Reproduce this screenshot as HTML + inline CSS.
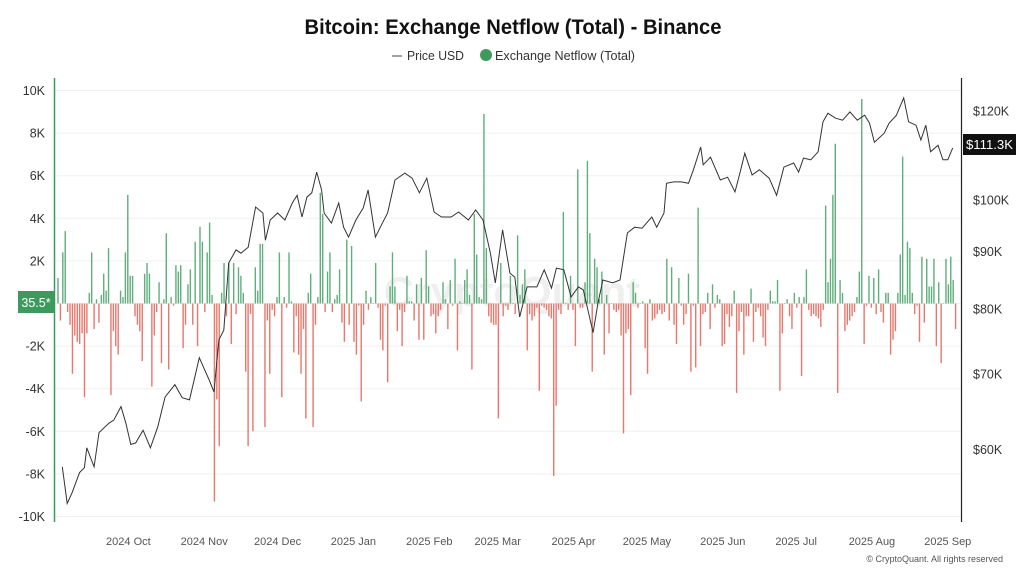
<!DOCTYPE html>
<html><head><meta charset="utf-8">
<style>
body{margin:0;background:#fff;width:1024px;height:571px;overflow:hidden;font-family:"Liberation Sans",sans-serif;}
svg text{font-family:"Liberation Sans",sans-serif;}
</style></head>
<body>
<svg id="chart" width="1024" height="571" viewBox="0 0 1024 571" xmlns="http://www.w3.org/2000/svg">
<text x="513" y="34" text-anchor="middle" font-size="21" font-weight="bold" fill="#111" textLength="417" lengthAdjust="spacingAndGlyphs">Bitcoin: Exchange Netflow (Total) - Binance</text>
<g>
 <g><line x1="392" y1="56" x2="402" y2="56" stroke="#444" stroke-width="1"/><text x="407" y="60" font-size="12.5" fill="#333" textLength="57" lengthAdjust="spacingAndGlyphs">Price USD</text></g>
 <g><circle cx="486" cy="55" r="6" fill="#3d9a5c"/><text x="495" y="60" font-size="12.5" fill="#333" textLength="140" lengthAdjust="spacingAndGlyphs">Exchange Netflow (Total)</text></g>
</g>
<g id="grid"></g>
<text x="512" y="306" text-anchor="middle" font-size="42" fill="#000" opacity="0.06" font-weight="bold">CryptoQuant</text>
<g id="bars"></g>
<path id="price" fill="none" stroke="#333" stroke-width="1"/>
<line x1="54.5" y1="78" x2="54.5" y2="522" stroke="#3d9a5c" stroke-width="1.5"/>
<line x1="961.5" y1="78" x2="961.5" y2="522" stroke="#222" stroke-width="1.2"/>
<g id="ylab"></g>
<g id="rlab"></g>
<g id="xlab"></g>
<g><rect x="18" y="291" width="36" height="22" fill="#3d9a5c"/><text x="36" y="307" text-anchor="middle" font-size="12.5" fill="#fff">35.5*</text></g>
<g><rect x="963" y="134" width="53" height="21" fill="#111"/><text x="989.5" y="149" text-anchor="middle" font-size="12.5" fill="#fff" textLength="47" lengthAdjust="spacingAndGlyphs">$111.3K</text></g>
<text x="1003" y="562" text-anchor="end" font-size="9" fill="#555">© CryptoQuant. All rights reserved</text>
</svg>
<script>
const netflow = [1.2,-0.8,2.4,3.4,-0.4,-1.0,-3.3,-1.5,-1.8,-1.9,-1.4,-4.4,-1.4,0.5,2.4,-1.2,0.2,-0.9,0.4,1.4,0.6,2.6,-4.3,-1.3,-2.0,-2.4,0.6,0.3,2.4,5.1,1.3,1.3,-0.6,-1.0,-1.3,-2.7,1.4,1.9,1.4,-3.9,-1.5,-0.4,1.0,-2.8,0.2,3.3,-3.1,0.3,-0.1,1.8,1.5,1.8,-2.1,-1.0,0.9,1.6,-1.0,2.9,-2.0,3.6,2.9,-0.4,2.4,3.8,0.4,-9.3,-4.5,-6.7,0.5,1.9,-0.6,1.9,-1.9,1.9,-0.5,1.7,1.3,0.5,-3.2,-6.7,-0.5,-6.0,1.7,0.6,2.8,2.8,-5.8,-0.8,-3.3,-0.3,-0.6,0.3,2.4,-4.4,0.3,-0.2,2.4,0.1,-2.3,-0.6,-2.4,-3.3,-1.2,-5.4,0.5,1.4,-5.8,-1.0,0.3,5.2,4.2,-0.4,1.5,2.4,-0.4,0.2,0.4,1.6,-0.9,-1.8,3.0,-1.0,2.7,-1.8,-2.4,
-0.1,-4.6,-1.0,0.6,-0.3,0.3,0,1.9,-0.2,-1.7,-2.2,-0.1,-3.7,0.8,2.4,0.8,-1.3,-0.3,-2.0,-0.4,1.3,0.1,0.1,-0.8,0.9,-1.7,1.2,-1.7,2.5,0.8,-0.6,-0.5,-1.4,-0.6,-0.3,1.0,0.2,-1.2,1.1,-0.1,2.1,-2.2,0.1,0,1.1,1.6,0.4,-3.1,4.2,2.3,0.3,0.2,8.9,2.6,-0.6,-0.9,-1.0,-1.0,-5.4,1.9,-0.6,-0.1,-0.3,1.3,0,-0.5,3.2,0.4,0.9,1.6,-2.2,-0.5,-0.8,-0.6,-0.2,-4.1,-0.1,-0.2,-0.3,-0.6,-0.7,-8.1,-4.8,-0.3,-0.5,4.3,0,-0.3,1.3,-0.3,-2.0,6.3,-0.2,-0.2,1.0,6.7,3.3,-3.2,2.1,1.7,0.2,1.5,-2.4,0.4,-1.4,0,-0.3,-0.4,-0.3,-1.5,-6.1,-1.4,-1.2,-4.3,1.0,0.5,-0.2,0,0.1,-2.1,-3.3,0.2,-0.8,-0.7,-0.5,-0.3,
-0.5,-0.4,2.1,-0.8,1.7,-1.0,-1.9,1.2,-0.1,-1.0,-0.5,1.4,-3.2,-0.1,-3.0,4.5,-2.0,-0.5,-0.4,0.5,-1.2,0.9,-0.2,0.4,0.2,-2.0,-1.9,-0.5,-1.1,-0.6,0.6,-4.2,-1.3,-0.4,-2.4,-0.6,-0.6,0.7,-1.8,-0.4,-0.2,-0.6,-1.6,-2.0,-0.3,0.6,0.1,0.1,1.1,-4.1,-1.4,0,0.2,-0.6,-1.2,0.5,-0.2,0.3,-3.4,0.3,1.6,-0.3,-0.6,-0.5,-0.6,-0.7,-1.1,-0.3,4.6,1.0,2.1,5.1,7.5,-4.2,1.1,0.5,-1.3,-1.0,-0.8,-0.6,-0.4,0.3,1.5,9.6,-1.9,-0.1,1.3,-0.2,1.2,-0.5,1.6,-0.4,-0.9,0.5,0.5,-2.4,-1.7,-1.3,0.5,2.3,6.9,0.4,2.9,2.6,0.5,-0.5,-0.1,-1.8,2.2,-0.9,2.1,0.8,0.8,2.1,-2.0,1.0,-2.8,0,2.1,0.9,2.2,1.1,-1.2];
const priceDays = [3,5,7,10,12,13,16,18,22,24,27,29,31,33,36,39,42,45,49,52,55,59,63,65,67,69,71,74,76,79,82,85,86,88,91,94,97,99,101,103,105,107,109,110,113,116,118,120,123,126,
128,131,133,136,139,143,146,149,152,155,158,162,165,169,172,175,178,180,183,186,188,190,193,197,200,203,205,208,211,214,216,220,222,224,228,231,234,237,240,244,246,249,
250,253,256,259,261,264,265,268,272,275,278,280,282,285,288,292,295,298,302,304,306,309,312,314,316,319,322,325,328,331,333,335,339,341,344,347,349,352,354,356,358,361,363,365,367];
const priceK = [57.9,53.7,54.9,57.2,57.8,60.2,57.9,62.1,63.3,63.7,65.5,63.3,60.6,60.8,62.4,60.2,62.8,66.8,68.5,66.7,66.4,72.4,69.2,67.5,75.1,76.6,87.9,90.3,89.7,90.8,98.6,97.4,92.1,96.0,97.4,96.0,99.4,101.0,96.6,100.6,101.5,105.9,102.1,97.4,95.4,99.4,94.6,92.7,96.0,98.4,
102.1,92.7,94.6,97.4,104.2,105.7,104.6,101.5,104.6,97.6,96.6,96.6,97.6,96.0,98.0,96.0,89.7,84.4,94.1,86.1,85.4,78.7,83.7,83.7,86.7,83.5,87.0,86.7,82.0,83.7,83.2,76.2,81.0,84.9,84.4,84.9,93.5,94.6,94.4,96.6,94.6,97.4,
103.5,103.8,103.8,103.5,106.4,111.5,107.5,109.2,104.2,104.8,101.7,105.7,110.1,105.3,106.4,104.6,101.0,107.0,107.9,105.9,109.0,108.6,110.4,117.4,119.5,118.3,117.8,119.8,117.8,119.0,117.1,112.6,114.7,117.1,119.0,123.3,117.4,116.6,113.1,116.6,110.4,111.9,108.6,108.6,111.3];
const leftTicks = [10,8,6,4,2,0,-2,-4,-6,-8,-10];
const leftTickLabels = ["10K","8K","6K","4K","2K","","-2K","-4K","-6K","-8K","-10K"];
const rightTicks = [120,100,90,80,70,60];
const monthDays = [30,61,91,122,153,181,212,242,273,303,334,365];
const monthLabels = ["2024 Oct","2024 Nov","2024 Dec","2025 Jan","2025 Feb","2025 Mar","2025 Apr","2025 May","2025 Jun","2025 Jul","2025 Aug","2025 Sep"];

const NS="http://www.w3.org/2000/svg";
function xScale(d){return 55 + d*(905/370);}
function xBar(i){return 58 + i*(900/netflow.length);}
function yL(v){return 303.5 - v*21.3;}
function yR(p){return 309 - 488*Math.log(p/80);}
function mk(tag,parent){const e=document.createElementNS(NS,tag);parent.appendChild(e);return e;}

const grid=document.getElementById('grid');
const ylab=document.getElementById('ylab');
leftTicks.forEach((t,i)=>{
  const l=mk('line',grid);
  
  
  l.setAttribute('x1',55);l.setAttribute('x2',961);l.setAttribute('y1',yL(t));l.setAttribute('y2',yL(t));
  l.setAttribute('stroke','#f0f0f0');l.setAttribute('stroke-width','1');
  const tx=mk('text',ylab);
  
  
  tx.setAttribute('x',45);tx.setAttribute('y',yL(t)+4.5);tx.setAttribute('text-anchor','end');
  tx.setAttribute('font-size','12.5');tx.setAttribute('fill','#333');tx.textContent=leftTickLabels[i];
});
const rlab=document.getElementById('rlab');
rightTicks.forEach(p=>{
  const tx=mk('text',rlab);
  
  
  tx.setAttribute('x',973);tx.setAttribute('y',yR(p)+4.5);
  tx.setAttribute('font-size','12.5');tx.setAttribute('fill','#333');tx.textContent='$'+p+'K';
});
const xlab=document.getElementById('xlab');
monthDays.forEach((d,i)=>{
  const tx=mk('text',xlab);
  
  
  tx.setAttribute('x',xScale(d));tx.setAttribute('y',545);tx.setAttribute('text-anchor','middle');
  tx.setAttribute('font-size','11');tx.setAttribute('fill','#555');tx.textContent=monthLabels[i];
});
const bars=document.getElementById('bars');
netflow.forEach((v,i)=>{
  const r=mk('rect',bars);
  
  
  const y0=yL(0), y1=yL(v);
  r.setAttribute('x',xBar(i)-0.7);r.setAttribute('width',1.4);
  r.setAttribute('y',Math.min(y0,y1));r.setAttribute('height',Math.max(0.5,Math.abs(y1-y0)));
  r.setAttribute('fill',v>=0?'#5fae7b':'#e8776c');
});
let d='';
priceDays.forEach((day,i)=>{d+=(i?'L':'M')+xScale(day).toFixed(1)+','+yR(priceK[i]).toFixed(1);});
document.getElementById('price').setAttribute('d',d);
</script>
</body></html>
